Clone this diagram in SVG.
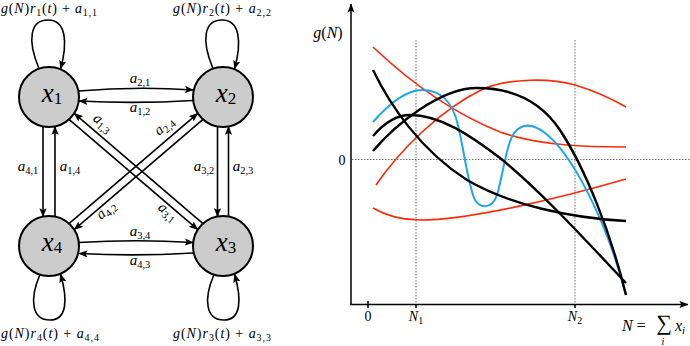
<svg xmlns="http://www.w3.org/2000/svg" width="690" height="346" viewBox="0 0 690 346" font-family="'Liberation Serif', 'Times New Roman', serif">
<style>
text{font-family:"Liberation Serif","Times New Roman",serif;fill:#000}
.i{font-style:italic}
.node{fill:#cccccc;stroke:#000;stroke-width:2}
.e{fill:none;stroke:#000;stroke-width:1.6}
.lbl{font-size:15px}
.sub{font-size:10.5px}
.ax{fill:none;stroke:#000;stroke-width:1.5}
.dot{fill:none;stroke:#666;stroke-width:0.9;stroke-dasharray:1.5 1.5}
.blk{fill:none;stroke:#000;stroke-width:2.4}
.red{fill:none;stroke:#ff2a0a;stroke-width:1.7}
.blu{fill:none;stroke:#1ea5f2;stroke-width:2}
</style>
<defs>
<marker id="ah" viewBox="0 0 10 8" refX="9.5" refY="4" markerWidth="9" markerHeight="7.2" markerUnits="userSpaceOnUse" orient="auto">
<path d="M0,0 L10,4 L0,8 L2,4 z" fill="#000"/>
</marker>
</defs>

<g id="connectors">
<path class="e" marker-end="url(#ah)" d="M39,68.5 C27,40 30,20 48,20 C66,20 68,42 60.5,69"/>
<path class="e" marker-end="url(#ah)" d="M213,68.5 C201,40 204,20 222,20 C240,20 242,42 234.5,69"/>
<path class="e" marker-end="url(#ah)" d="M40,274.5 C29,300 32,320 50,320 C67,320 68,300 60.5,274"/>
<path class="e" marker-end="url(#ah)" d="M214,274.5 C203,300 206,320 224,320 C241,320 242,300 234.5,274"/>
<path class="e" marker-end="url(#ah)" d="M78.5,91 Q136,86 193.5,90"/>
<path class="e" marker-end="url(#ah)" d="M193,100.5 Q136,104 79,101"/>
<path class="e" marker-end="url(#ah)" d="M78.5,242.5 Q136,239 193.5,242.5"/>
<path class="e" marker-end="url(#ah)" d="M193,253 Q136,256.5 79,253.5"/>
<path class="e" marker-end="url(#ah)" d="M43,126.3 L43,216.7"/>
<path class="e" marker-end="url(#ah)" d="M55,216.7 L55,126.3"/>
<path class="e" marker-end="url(#ah)" d="M217.5,126.3 L217.5,216.7"/>
<path class="e" marker-end="url(#ah)" d="M228.5,216.7 L228.5,126.3"/>
<path class="e" marker-end="url(#ah)" d="M69,119.3 L197.8,229.7"/>
<path class="e" marker-end="url(#ah)" d="M203,223.7 L74.2,113.3"/>
<path class="e" marker-end="url(#ah)" d="M203,119.3 L74.2,229.7"/>
<path class="e" marker-end="url(#ah)" d="M69,223.7 L197.8,113.3"/>

<text class="lbl" x="140" y="83" text-anchor="middle"><tspan class="i">a</tspan><tspan class="sub" dy="3">2,1</tspan></text>
<text class="lbl" x="140" y="112" text-anchor="middle"><tspan class="i">a</tspan><tspan class="sub" dy="3">1,2</tspan></text>
<text class="lbl" x="140" y="236" text-anchor="middle"><tspan class="i">a</tspan><tspan class="sub" dy="3">3,4</tspan></text>
<text class="lbl" x="140" y="265" text-anchor="middle"><tspan class="i">a</tspan><tspan class="sub" dy="3">4,3</tspan></text>
<text class="lbl" x="28" y="171" text-anchor="middle"><tspan class="i">a</tspan><tspan class="sub" dy="3">4,1</tspan></text>
<text class="lbl" x="70" y="171" text-anchor="middle"><tspan class="i">a</tspan><tspan class="sub" dy="3">1,4</tspan></text>
<text class="lbl" x="204" y="171" text-anchor="middle"><tspan class="i">a</tspan><tspan class="sub" dy="3">3,2</tspan></text>
<text class="lbl" x="243" y="171" text-anchor="middle"><tspan class="i">a</tspan><tspan class="sub" dy="3">2,3</tspan></text>
<g transform="translate(102,124) rotate(40)"><text class="lbl" x="0" y="3" text-anchor="middle"><tspan class="i">a</tspan><tspan class="sub" dy="3">1,3</tspan></text></g>
<g transform="translate(167,213) rotate(40)"><text class="lbl" x="0" y="3" text-anchor="middle"><tspan class="i">a</tspan><tspan class="sub" dy="3">3,1</tspan></text></g>
<g transform="translate(165,127) rotate(-40)"><text class="lbl" x="0" y="3" text-anchor="middle"><tspan class="i">a</tspan><tspan class="sub" dy="3">2,4</tspan></text></g>
<g transform="translate(107,211) rotate(-40)"><text class="lbl" x="0" y="3" text-anchor="middle"><tspan class="i">a</tspan><tspan class="sub" dy="3">4,2</tspan></text></g>
</g>

<g id="node-x1">
<circle class="node" cx="49" cy="97" r="30"/>
<text x="52" y="102" text-anchor="middle" font-size="27"><tspan class="i">x</tspan><tspan font-size="17" dy="2">1</tspan></text>
<text x="49" y="13" text-anchor="middle" font-size="14" textLength="96" lengthAdjust="spacing"><tspan class="i">g</tspan>(<tspan class="i">N</tspan>)<tspan class="i">r</tspan><tspan font-size="10" dy="3">1</tspan><tspan dy="-3">(</tspan><tspan class="i">t</tspan>) + <tspan class="i">a</tspan><tspan font-size="10" dy="3">1,1</tspan></text>
</g>
<g id="node-x2">
<circle class="node" cx="223" cy="97" r="30"/>
<text x="226" y="102" text-anchor="middle" font-size="27"><tspan class="i">x</tspan><tspan font-size="17" dy="2">2</tspan></text>
<text x="222" y="13" text-anchor="middle" font-size="14" textLength="98" lengthAdjust="spacing"><tspan class="i">g</tspan>(<tspan class="i">N</tspan>)<tspan class="i">r</tspan><tspan font-size="10" dy="3">2</tspan><tspan dy="-3">(</tspan><tspan class="i">t</tspan>) + <tspan class="i">a</tspan><tspan font-size="10" dy="3">2,2</tspan></text>
</g>
<g id="node-x3">
<circle class="node" cx="223" cy="246" r="30"/>
<text x="226" y="251" text-anchor="middle" font-size="27"><tspan class="i">x</tspan><tspan font-size="17" dy="2">3</tspan></text>
<text x="222" y="338" text-anchor="middle" font-size="14" textLength="98" lengthAdjust="spacing"><tspan class="i">g</tspan>(<tspan class="i">N</tspan>)<tspan class="i">r</tspan><tspan font-size="10" dy="3">3</tspan><tspan dy="-3">(</tspan><tspan class="i">t</tspan>) + <tspan class="i">a</tspan><tspan font-size="10" dy="3">3,3</tspan></text>
</g>
<g id="node-x4">
<circle class="node" cx="49" cy="246" r="30"/>
<text x="52" y="251" text-anchor="middle" font-size="27"><tspan class="i">x</tspan><tspan font-size="17" dy="2">4</tspan></text>
<text x="50" y="338" text-anchor="middle" font-size="14" textLength="98" lengthAdjust="spacing"><tspan class="i">g</tspan>(<tspan class="i">N</tspan>)<tspan class="i">r</tspan><tspan font-size="10" dy="3">4</tspan><tspan dy="-3">(</tspan><tspan class="i">t</tspan>) + <tspan class="i">a</tspan><tspan font-size="10" dy="3">4,4</tspan></text>
</g>

<g id="chart">
<path class="dot" d="M416,40 V304 M575,40 V304 M352,159.5 H690"/>
<path class="ax" d="M368,301 V308 M416,304 V308 M575,304 V308"/>
<path class="ax" marker-end="url(#ah)" d="M351,305 V4"/>
<path class="ax" marker-end="url(#ah)" d="M350.3,304.5 H688"/>
<text x="328" y="38" text-anchor="middle" font-size="16"><tspan class="i">g</tspan>(<tspan class="i">N</tspan>)</text>
<text x="342" y="165" text-anchor="middle" font-size="14">0</text>
<text x="368" y="321" text-anchor="middle" font-size="14">0</text>
<text x="416" y="321" text-anchor="middle" font-size="14"><tspan class="i">N</tspan><tspan font-size="10" dy="3">1</tspan></text>
<text x="575" y="321" text-anchor="middle" font-size="14"><tspan class="i">N</tspan><tspan font-size="10" dy="3">2</tspan></text>
<text x="622" y="331" font-size="16"><tspan class="i">N</tspan> =</text>
<text x="664" y="330" text-anchor="middle" font-size="22">∑</text>
<text class="i" x="663" y="345" text-anchor="middle" font-size="10">i</text>
<text x="675" y="331" font-size="16"><tspan class="i">x</tspan><tspan class="i" font-size="11" dy="3">i</tspan></text>

<path class="red" d="M373,47 C410,82 450,112 500,132 C540,146 590,147 626,147"/>
<path class="red" d="M376,185 C400,150 440,110 483,89 C510,78 550,78 575,85 C595,91 612,99 626,107"/>
<path class="red" d="M373,208 C390,218 405,220 420,220 C470,220 560,198 626,179"/>
<path class="blu" d="M373,122 C388,105 405,90 422,90 C440,90 452,100 458,125 C465,155 468,185 475,200 C480,208 492,210 497,195 C503,175 507,140 515,132 C522,124 532,123 545,133 C570,152 605,215 626,295"/>
<path class="blk" d="M373,70 C390,105 420,150 467,180 C510,205 570,218 626,221"/>
<path class="blk" d="M373,136 C385,122 398,115 410,115 C440,115 470,135 500,158 C540,190 590,245 626,283"/>
<path class="blk" d="M373,151 C395,125 440,88 477,88 C510,88 540,100 560,130 C585,168 610,230 626,295"/>
</g>
</svg>
